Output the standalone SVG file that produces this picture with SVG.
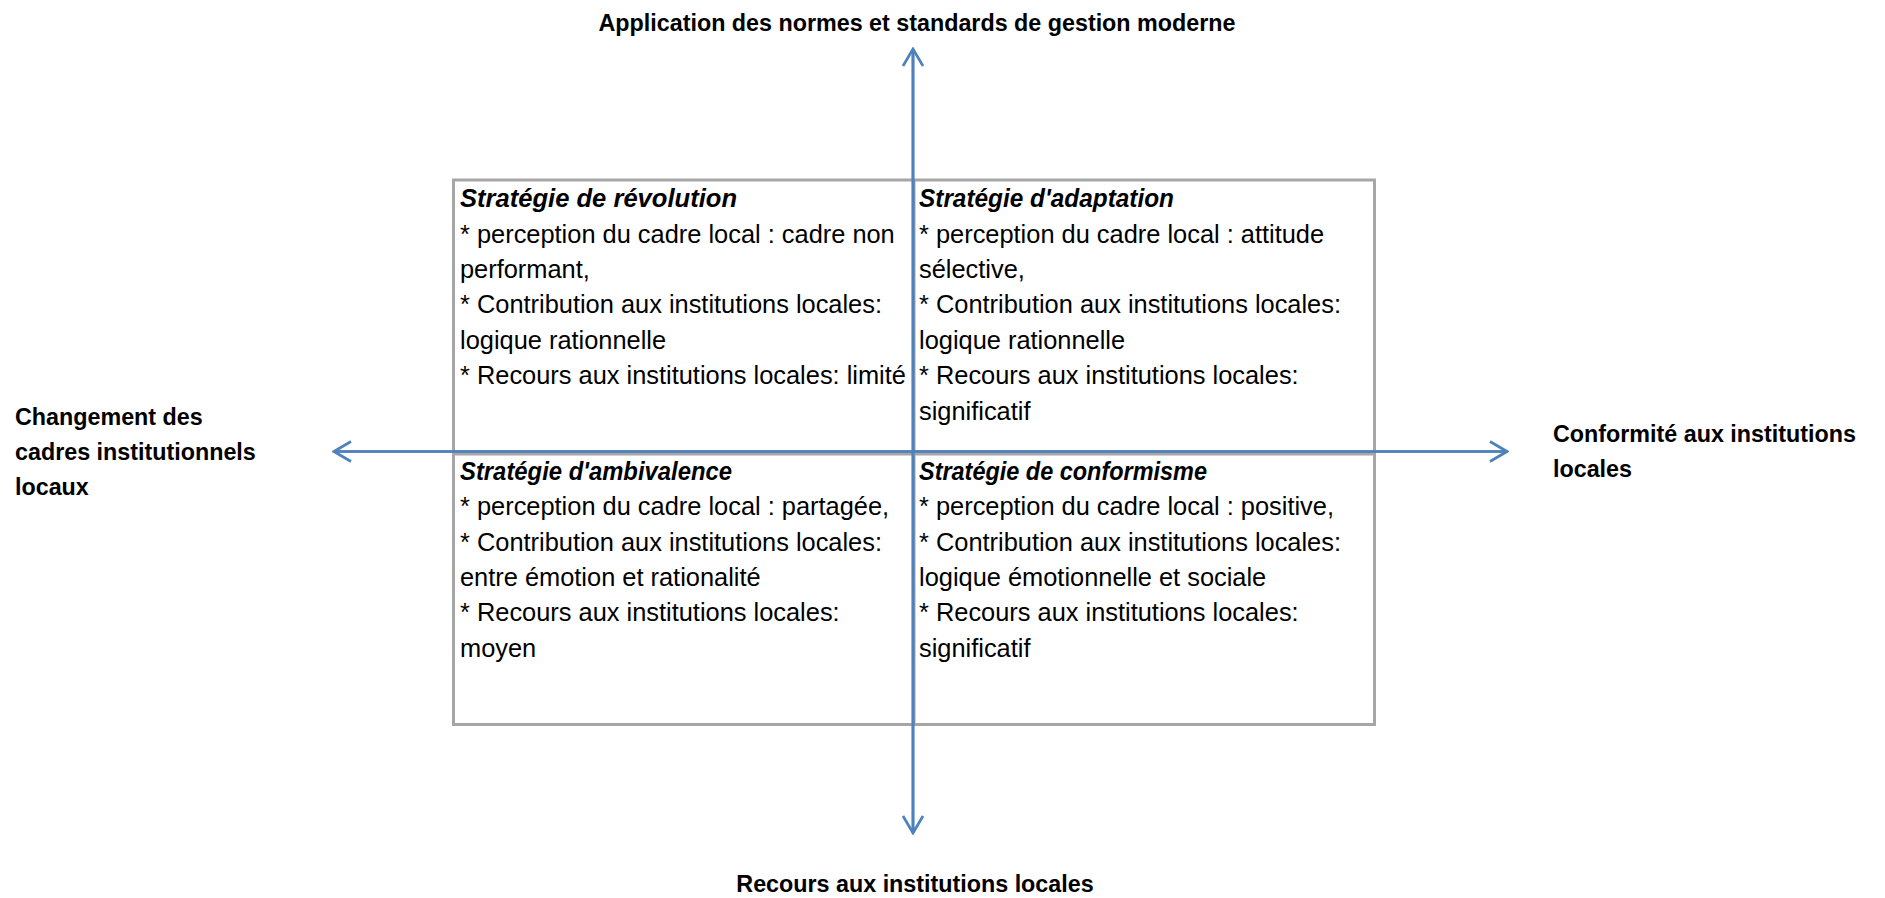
<svg xmlns="http://www.w3.org/2000/svg" width="1885" height="898" viewBox="0 0 1885 898">
<style>
.body{font-family:"Liberation Sans",Arial,sans-serif;font-size:25.4px;fill:#000}
.ttl{font-family:"Liberation Sans",Arial,sans-serif;font-size:25.4px;font-weight:bold;font-style:italic;fill:#000}
.lab{font-family:"Liberation Sans",Arial,sans-serif;font-size:23.3px;font-weight:bold;fill:#000}
.ax{stroke:#4f81bd;stroke-width:2.7;fill:none}
.grid{stroke:#a6a6a6;stroke-width:3;fill:none}
</style>
<defs>
<marker id="arr" markerUnits="userSpaceOnUse" viewBox="-20 -12 22 24" refX="0" refY="0" markerWidth="22" markerHeight="24" orient="auto">
<path d="M-17,-10 L0,0 L-17,10" fill="none" stroke="#4f81bd" stroke-width="2.7"/>
</marker>
</defs>
<rect width="1885" height="898" fill="#fff"/>
<g id="grid">
<rect class="grid" x="453.5" y="180" width="921" height="544.5"/>
<line class="grid" x1="453.5" y1="454" x2="1374.5" y2="454"/>
<line class="grid" x1="914" y1="180" x2="914" y2="724.5"/>
</g>
<g id="connectors">
<line class="ax" x1="913" y1="833" x2="913" y2="49" marker-end="url(#arr)"/>
<line class="ax" x1="913" y1="49" x2="913" y2="833" marker-end="url(#arr)"/>
<line class="ax" x1="1507" y1="451.5" x2="334" y2="451.5" marker-end="url(#arr)"/>
<line class="ax" x1="334" y1="451.5" x2="1507" y2="451.5" marker-end="url(#arr)"/>
</g>
<g id="label-top"><text class="lab" x="917" y="31" text-anchor="middle">Application des normes et standards de gestion moderne</text></g>
<g id="label-bottom"><text class="lab" x="915" y="892" text-anchor="middle">Recours aux institutions locales</text></g>
<g id="label-left">
<text class="lab" x="15" y="425">Changement des</text>
<text class="lab" x="15" y="460">cadres institutionnels</text>
<text class="lab" x="15" y="495">locaux</text>
</g>
<g id="label-right">
<text class="lab" x="1553" y="442">Conformité aux institutions</text>
<text class="lab" x="1553" y="477">locales</text>
</g>
<g id="revolution">
<text class="ttl" x="460" y="207" textLength="277" lengthAdjust="spacingAndGlyphs">Stratégie de révolution</text>
<text class="body" x="460" y="242.5">* perception du cadre local : cadre non</text>
<text class="body" x="460" y="278">performant,</text>
<text class="body" x="460" y="313">* Contribution aux institutions locales:</text>
<text class="body" x="460" y="348.5">logique rationnelle</text>
<text class="body" x="460" y="384">* Recours aux institutions locales: limité</text>
</g>
<g id="adaptation">
<text class="ttl" x="919" y="207" textLength="255" lengthAdjust="spacingAndGlyphs">Stratégie d'adaptation</text>
<text class="body" x="919" y="242.5">* perception du cadre local : attitude</text>
<text class="body" x="919" y="278">sélective,</text>
<text class="body" x="919" y="313">* Contribution aux institutions locales:</text>
<text class="body" x="919" y="348.5">logique rationnelle</text>
<text class="body" x="919" y="384">* Recours aux institutions locales:</text>
<text class="body" x="919" y="419.5">significatif</text>
</g>
<g id="ambivalence">
<text class="ttl" x="460" y="480" textLength="272" lengthAdjust="spacingAndGlyphs">Stratégie d'ambivalence</text>
<text class="body" x="460" y="515">* perception du cadre local : partagée,</text>
<text class="body" x="460" y="550.5">* Contribution aux institutions locales:</text>
<text class="body" x="460" y="586">entre émotion et rationalité</text>
<text class="body" x="460" y="621">* Recours aux institutions locales:</text>
<text class="body" x="460" y="656.5">moyen</text>
</g>
<g id="conformisme">
<text class="ttl" x="919" y="480" textLength="288" lengthAdjust="spacingAndGlyphs">Stratégie de conformisme</text>
<text class="body" x="919" y="515">* perception du cadre local : positive,</text>
<text class="body" x="919" y="550.5">* Contribution aux institutions locales:</text>
<text class="body" x="919" y="586">logique émotionnelle et sociale</text>
<text class="body" x="919" y="621">* Recours aux institutions locales:</text>
<text class="body" x="919" y="656.5">significatif</text>
</g>
</svg>
